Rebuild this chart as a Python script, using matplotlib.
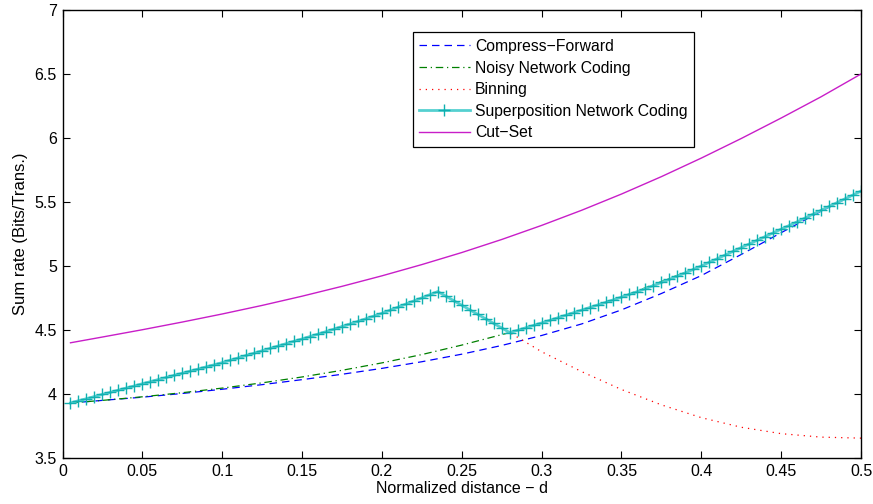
import matplotlib
matplotlib.use("Agg")
import matplotlib.pyplot as plt
from matplotlib.ticker import FormatStrFormatter

plt.rcParams["font.family"] = ["Liberation Sans", "DejaVu Sans"]

# distance grid used by the superposition curve (its markers sit on every sample)
snc_x = [round(0.005 * k, 3) for k in range(1, 101)]
snc_rate = [
    3.930, 3.947, 3.963, 3.980, 3.997, 4.013, 4.030, 4.047, 4.063, 4.080,
    4.096, 4.113, 4.129, 4.146, 4.162, 4.179, 4.195, 4.212, 4.228, 4.245,
    4.264, 4.282, 4.301, 4.319, 4.338, 4.356, 4.375, 4.393, 4.412, 4.430,
    4.449, 4.468, 4.487, 4.507, 4.527, 4.547, 4.567, 4.588, 4.609, 4.630,
    4.654, 4.678, 4.703, 4.727, 4.751, 4.776, 4.800,
    4.764, 4.729, 4.693, 4.658, 4.622, 4.587, 4.551, 4.516, 4.480,
    4.498, 4.517, 4.536, 4.555, 4.575, 4.595, 4.615, 4.635,
    4.655, 4.675, 4.695, 4.715, 4.736, 4.757, 4.778, 4.800,
    4.823, 4.847, 4.871, 4.895, 4.921, 4.947, 4.973, 5.000,
    5.029, 5.057, 5.086, 5.115, 5.144, 5.172, 5.201, 5.230,
    5.259, 5.288, 5.316, 5.345, 5.375, 5.405, 5.435, 5.465,
    5.495, 5.525, 5.555, 5.585,
]

grid_x = [0.005, 0.025, 0.05, 0.075, 0.1, 0.125, 0.15, 0.175, 0.2, 0.225, 0.25,
          0.275, 0.3, 0.325, 0.35, 0.375, 0.4, 0.425, 0.45, 0.475, 0.5]
cf_rate = [3.930, 3.950, 3.975, 4.004, 4.037, 4.073, 4.112, 4.154, 4.200, 4.252, 4.311,
           4.379, 4.457, 4.547, 4.657, 4.785, 4.925, 5.090, 5.260, 5.428, 5.585]
cutset_rate = [4.400, 4.445, 4.502, 4.562, 4.625, 4.692, 4.764, 4.841, 4.923, 5.011, 5.105,
               5.207, 5.317, 5.435, 5.562, 5.698, 5.843, 5.996, 6.156, 6.322, 6.500]

nnc_x = [0.005, 0.025, 0.05, 0.075, 0.1, 0.125, 0.15, 0.175, 0.2, 0.225, 0.25,
         0.28, 0.3, 0.35, 0.4, 0.45, 0.5]
nnc_rate = [3.930, 3.950, 3.978, 4.010, 4.046, 4.087, 4.133, 4.185, 4.243, 4.308, 4.382,
            4.480, 4.555, 4.757, 5.000, 5.288, 5.585]

bin_x = [0.005, 0.05, 0.1, 0.15, 0.2, 0.235, 0.25, 0.28, 0.3, 0.325, 0.35,
         0.375, 0.4, 0.425, 0.45, 0.475, 0.5]
bin_rate = [3.930, 4.080, 4.245, 4.430, 4.630, 4.800, 4.693, 4.480, 4.330, 4.175, 4.035,
            3.915, 3.815, 3.740, 3.690, 3.663, 3.655]

x_ticks = [0, 0.05, 0.1, 0.15, 0.2, 0.25, 0.3, 0.35, 0.4, 0.45, 0.5]
y_ticks = [3.5, 4, 4.5, 5, 5.5, 6, 6.5, 7]

fig = plt.figure(figsize=(8.73, 5.04), dpi=100)
ax = fig.add_axes([0.0716, 0.0913, 0.9147, 0.8889])

ax.plot(grid_x, cf_rate, color="#0000ff", linestyle=(0, (6, 4)), linewidth=0.9,
        label="Compress\u2212Forward")
ax.plot(nnc_x, nnc_rate, color="#008000", linestyle=(0, (6, 3, 1, 3)), linewidth=0.9,
        label="Noisy Network Coding")
ax.plot(bin_x, bin_rate, color="#ff0000", linestyle=(0, (1, 4)), linewidth=0.9,
        label="Binning")
ax.plot(snc_x, snc_rate, color="#55d0d0", linewidth=2.0, marker="+", markersize=8,
        markeredgewidth=1.0, markeredgecolor="#10b0b0",
        label="Superposition Network Coding")
ax.plot(grid_x, cutset_rate, color="#c81ec8", linewidth=1.0, label="Cut\u2212Set")

ax.set_xlim(0, 0.5)
ax.set_ylim(3.5, 7)
ax.set_xticks(x_ticks)
ax.set_yticks(y_ticks)
ax.xaxis.set_major_formatter(FormatStrFormatter("%g"))
ax.yaxis.set_major_formatter(FormatStrFormatter("%g"))
ax.tick_params(direction="in", top=True, right=True, length=5, width=0.8,
               labelsize=11.5, pad=4)
for s in ax.spines.values():
    s.set_linewidth(1.0)

ax.set_xlabel("Normalized distance \u2212 d", fontsize=11.5, labelpad=2)
ax.set_ylabel("Sum rate (Bits/Trans.)", fontsize=12, labelpad=5)

leg = ax.legend(loc="upper left", bbox_to_anchor=(0.4386, 0.950), borderaxespad=0,
                fontsize=11.3, handlelength=3.2, handletextpad=0.35, labelspacing=0.42,
                borderpad=0.42, fancybox=False, framealpha=1, edgecolor="black")
leg.get_frame().set_linewidth(0.9)

fig.savefig("out.png", dpi=100)
